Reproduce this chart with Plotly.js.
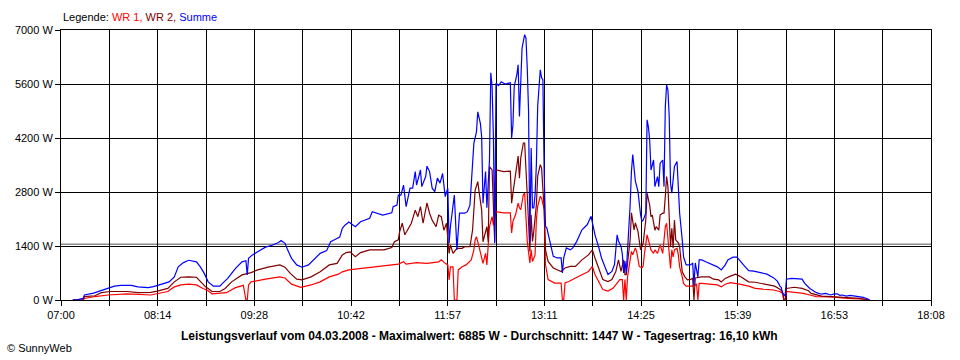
<!DOCTYPE html>
<html>
<head>
<meta charset="utf-8">
<script src="https://cdn.plot.ly/plotly-3.0.1.min.js"></script>
<style>html,body{margin:0;padding:0;background:#fff;}#chart{width:960px;height:360px;}</style>
</head>
<body>
<div id="chart"></div>
<script>
// ---- data ----
const xTickLabels = ["07:00","08:14","09:28","10:42","11:57","13:11","14:25","15:39","16:53","18:08"];
const yTickValues = [0, 1400, 2800, 4200, 5600, 7000];
const averageW = 1447;

const sumTimes = ["07:09","07:13","07:17","07:18","07:25","07:29","07:36","07:41","07:46","07:54","07:59","08:07","08:11","08:17","08:23","08:27","08:30","08:34","08:38","08:44","08:47","08:50","08:53","08:57","09:02","09:04","09:08","09:14","09:19","09:22","09:23","09:24","09:27","09:31","09:37","09:42","09:47","09:49","09:52","09:54","09:57","10:01","10:05","10:10","10:15","10:19","10:24","10:27","10:30","10:34","10:36","10:38","10:41","10:46","10:50","10:57","10:59","11:07","11:14","11:15","11:18","11:19","11:21","11:23","11:25","11:28","11:30","11:32","11:33","11:36","11:37","11:40","11:41","11:43","11:45","11:47","11:49","11:51","11:53","11:55","11:57","11:58","11:59","12:02","12:04","12:06","12:10","12:12","12:14","12:17","12:19","12:20","12:22","12:23","12:24","12:26","12:27","12:29","12:30","12:31","12:32","12:33","12:34","12:36","12:38","12:41","12:45","12:46","12:47","12:48","12:50","12:51","12:52","12:53","12:54","12:56","12:57","12:58","12:59","13:00","13:01","13:02","13:03","13:04","13:05","13:06","13:08","13:09","13:10","13:11","13:12","13:13","13:16","13:18","13:21","13:24","13:25","13:26","13:28","13:31","13:33","13:36","13:40","13:44","13:47","13:50","13:53","13:55","13:58","14:00","14:03","14:05","14:07","14:08","14:10","14:11","14:12","14:13","14:14","14:16","14:17","14:18","14:19","14:21","14:23","14:25","14:26","14:27","14:29","14:30","14:31","14:32","14:33","14:35","14:36","14:38","14:39","14:40","14:42","14:43","14:44","14:45","14:46","14:47","14:48","14:49","14:50","14:51","14:53","14:54","14:55","14:57","14:58","15:00","15:03","15:05","15:06","15:07","15:09","15:10","15:12","15:15","15:18","15:24","15:27","15:30","15:32","15:36","15:39","15:41","15:44","15:48","15:52","15:57","16:02","16:07","16:10","16:12","16:13","16:14","16:16","16:17","16:21","16:29","16:31","16:35","16:40","16:44","16:47","16:51","16:53","16:56","16:58","17:00","17:03","17:06","17:10","17:16","17:20","17:21"];
const sumW = [0,10,40,130,180,230,300,360,380,380,340,320,345,410,470,600,860,970,1030,990,860,690,470,360,360,430,560,820,990,1020,650,1080,1170,1250,1370,1420,1490,1540,1470,1300,1080,910,850,910,1080,1210,1280,1510,1560,1630,1860,1940,2020,1900,2030,2120,2290,2200,2260,2420,2460,2720,2720,2980,2420,2900,2900,3330,2980,3370,2940,3200,3470,3330,2900,2810,3160,3030,3280,2680,2900,1470,1900,2720,1300,2250,2250,2290,2460,4060,4360,4880,4580,4230,2510,3330,2390,3630,5890,5530,4230,1470,5620,5560,5660,5600,5630,4200,4540,5540,5840,6100,4760,5500,6530,6880,6790,6010,4890,1520,3940,2390,2390,2720,3510,5020,5970,5760,5710,3250,1910,1870,1430,1130,1090,1090,700,1090,1350,1300,1350,1520,1820,1950,2170,1690,1350,1090,830,660,740,920,1690,1530,1390,1190,700,1010,700,1690,2470,3340,3770,3080,2820,2210,2040,2070,2250,4670,4490,4150,3370,3630,2940,3200,2940,3540,3630,2940,5010,5570,5440,4750,3030,2770,3190,3460,3590,2850,2250,1560,1120,910,910,950,390,960,600,1040,1040,990,950,860,780,910,1040,1110,1110,1040,910,760,750,710,670,580,490,360,330,180,100,540,560,540,430,300,190,150,170,130,150,160,120,130,100,120,100,70,20,0];

const wr2Times = ["07:09","07:17","07:18","07:26","07:31","07:38","07:51","07:59","08:09","08:14","08:22","08:27","08:32","08:38","08:44","08:47","08:51","08:53","08:56","09:02","09:06","09:11","09:19","09:26","09:31","09:39","09:48","09:52","09:56","10:01","10:05","10:12","10:19","10:26","10:32","10:36","10:39","10:42","10:46","10:50","10:57","11:08","11:14","11:16","11:19","11:20","11:22","11:24","11:27","11:29","11:32","11:34","11:36","11:38","11:41","11:43","11:45","11:48","11:50","11:52","11:54","11:56","11:58","11:59","12:01","12:04","12:08","12:10","12:14","12:16","12:18","12:20","12:21","12:23","12:24","12:27","12:28","12:29","12:31","12:33","12:34","12:40","12:45","12:46","12:47","12:49","12:50","12:51","12:52","12:53","12:55","12:56","12:58","13:00","13:01","13:02","13:03","13:05","13:06","13:08","13:09","13:11","13:12","13:14","13:18","13:22","13:24","13:27","13:31","13:35","13:40","13:45","13:48","13:50","13:54","13:56","14:00","14:03","14:06","14:08","14:10","14:12","14:13","14:14","14:17","14:18","14:20","14:21","14:23","14:25","14:27","14:29","14:30","14:32","14:33","14:34","14:36","14:37","14:39","14:40","14:42","14:43","14:44","14:45","14:46","14:47","14:48","14:49","14:50","14:51","14:52","14:54","14:55","14:56","14:57","14:59","15:01","15:04","15:05","15:06","15:07","15:12","15:18","15:21","15:25","15:27","15:30","15:34","15:38","15:41","15:44","15:48","15:53","15:58","16:03","16:08","16:12","16:14","16:15","16:16","16:17","16:23","16:29","16:34","16:36","16:40","16:44","16:51","17:04","17:13","17:20"];
const wr2W = [0,0,90,110,190,220,220,190,200,230,300,470,590,600,590,470,340,300,220,220,300,470,650,710,780,850,910,850,690,540,520,600,730,910,950,1170,1230,1250,1120,1230,1300,1300,1360,1510,1560,1770,1990,1690,1860,1990,2330,2160,2420,1990,2520,2250,2070,1900,2200,2160,1810,1990,1210,1430,1210,1340,1340,1380,1380,1810,2850,3070,2810,2330,1510,1900,1510,3460,3370,1510,3370,3330,3340,2510,2770,3250,3550,3730,3160,3680,4070,4070,2730,1260,2210,1520,1780,2470,3210,3510,3420,2340,1300,1000,830,760,740,830,870,870,1040,1170,1300,1090,700,530,480,530,740,1040,740,1040,660,660,1560,2260,1820,2000,1780,1300,1470,2070,2770,2460,2160,2200,1810,1900,1810,2200,2250,2250,2680,3200,2940,2070,1380,1860,1340,2070,1560,1480,1380,1040,730,600,520,540,570,0,570,600,600,540,520,470,560,620,670,620,560,470,460,430,400,360,280,220,0,0,300,330,300,240,170,130,100,90,70,40,0];

const wr1Times = ["07:09","07:17","07:18","07:26","07:36","07:51","08:09","08:14","08:22","08:27","08:32","08:38","08:44","08:49","08:53","08:56","09:07","09:14","09:20","09:22","09:23","09:24","09:26","09:37","09:48","09:52","09:57","10:04","10:12","10:19","10:26","10:33","10:36","10:41","10:52","11:02","11:19","11:23","11:25","11:33","11:41","11:50","11:52","11:55","11:57","11:58","11:59","12:01","12:02","12:04","12:05","12:08","12:11","12:15","12:17","12:18","12:19","12:21","12:23","12:24","12:26","12:27","12:29","12:31","12:32","12:34","12:40","12:45","12:46","12:47","12:49","12:50","12:51","12:52","12:53","12:55","12:56","12:58","13:00","13:01","13:02","13:04","13:05","13:06","13:08","13:09","13:11","13:12","13:14","13:19","13:24","13:25","13:26","13:27","13:30","13:35","13:40","13:45","13:48","13:50","13:54","13:56","14:00","14:04","14:07","14:09","14:11","14:12","14:13","14:14","14:15","14:17","14:18","14:19","14:21","14:22","14:24","14:26","14:27","14:28","14:30","14:31","14:32","14:33","14:35","14:36","14:38","14:39","14:40","14:42","14:43","14:44","14:45","14:46","14:47","14:48","14:49","14:50","14:51","14:53","14:54","14:55","14:57","14:58","15:00","15:05","15:08","15:09","15:10","15:12","15:18","15:24","15:27","15:30","15:34","15:39","15:41","15:48","15:53","15:59","16:07","16:12","16:14","16:15","16:16","16:17","16:25","16:30","16:35","16:40","16:51","17:04","17:19","17:20"];
const wr1W = [0,0,40,90,130,160,130,160,220,340,390,410,390,300,240,160,190,320,380,0,0,390,470,540,600,570,410,330,390,470,600,670,730,780,820,860,930,990,930,970,950,990,1040,950,910,520,860,860,0,0,780,860,910,1040,1300,1560,1640,1380,1040,950,1210,910,1900,2160,1940,2290,2260,2260,1740,2040,2210,2390,2510,2390,2340,2730,2770,1520,960,1300,1000,1170,2080,2430,2690,2640,2340,920,530,440,440,0,0,440,480,570,660,740,870,660,400,270,230,310,440,530,530,0,530,0,600,1000,1260,1170,1350,1260,870,830,880,1210,1690,1560,1430,1300,1210,1300,1210,1300,1430,1210,1560,1900,1990,1640,1170,820,1300,1120,1300,1340,1170,860,600,430,360,360,410,0,430,430,410,390,340,410,450,430,410,360,300,280,260,220,170,0,0,220,200,170,130,90,80,40,20,0];

// ---- helpers ----
function toMin(s) { const p = s.split(":"); return (+p[0]) * 60 + (+p[1]); }
const xStart = toMin(xTickLabels[0]);
const xEnd = toMin(xTickLabels[xTickLabels.length - 1]);
const nGrid = (xTickLabels.length - 1) * 2;
const xTickVals = [], xTickText = [];
for (let i = 0; i <= nGrid; i++) {
  xTickVals.push(xStart + i * (xEnd - xStart) / nGrid);
  xTickText.push(i % 2 === 0 ? xTickLabels[i / 2] : "");
}

const FONT = "Liberation Sans, Arial, sans-serif";
function series(times, vals, color, name) {
  return { type: "scatter", mode: "lines", name: name,
    x: times.map(toMin), y: vals,
    line: { color: color, width: 1.2 }, hoverinfo: "skip" };
}

const data = [
  series(wr1Times, wr1W, "#ff0000", "WR 1"),
  series(wr2Times, wr2W, "#800000", "WR 2"),
  series(sumTimes, sumW, "#0000ff", "Summe")
];

const layout = {
  width: 960, height: 360,
  margin: { l: 61, r: 29, t: 30, b: 60, pad: 0 },
  paper_bgcolor: "#ffffff", plot_bgcolor: "#ffffff",
  showlegend: false,
  font: { family: FONT, size: 11, color: "#000" },
  xaxis: {
    range: [xStart, xEnd], tickmode: "array", tickvals: xTickVals, ticktext: xTickText,
    showgrid: true, gridcolor: "#000", gridwidth: 1, zeroline: false,
    showline: true, linecolor: "#000", linewidth: 1, mirror: true,
    ticks: "outside", ticklen: 5, tickcolor: "#000", tickwidth: 1,
    tickfont: { family: FONT, size: 11, color: "#000" }, layer: "below traces", fixedrange: true
  },
  yaxis: {
    range: [0, 7000], tickmode: "array", tickvals: yTickValues,
    ticktext: yTickValues.map(v => v + " W"),
    showgrid: true, gridcolor: "#000", gridwidth: 1, zeroline: false,
    showline: true, linecolor: "#000", linewidth: 1, mirror: true,
    ticks: "outside", ticklen: 5, tickcolor: "#000", tickwidth: 1,
    tickfont: { family: FONT, size: 11, color: "#000" }, layer: "below traces", fixedrange: true
  },
  shapes: [{
    type: "line", xref: "paper", x0: 0, x1: 1, yref: "y", y0: averageW, y1: averageW,
    line: { color: "#8a8a8a", width: 1.5 }, layer: "below"
  }],
  annotations: [
    { xref: "paper", yref: "paper", x: 0, y: 1.049, xanchor: "left", yanchor: "middle", showarrow: false,
      font: { family: FONT, size: 11, color: "#000" },
      text: 'Legende: <span style="color:#ff0000">WR 1,</span> <span style="color:#800000">WR 2,</span> <span style="color:#0000ff">Summe</span>' },
    { xref: "paper", yref: "paper", x: 0.481, y: -0.135, xanchor: "center", yanchor: "middle", showarrow: false,
      font: { family: FONT, size: 12, color: "#000" },
      text: "<b>Leistungsverlauf vom 04.03.2008 - Maximalwert: 6885 W - Durchschnitt: 1447 W - Tagesertrag: 16,10 kWh</b>" },
    { xref: "paper", yref: "paper", x: -0.0644, y: -0.178, xanchor: "left", yanchor: "middle", showarrow: false,
      font: { family: FONT, size: 11, color: "#000" }, text: "© SunnyWeb" }
  ]
};

Plotly.newPlot("chart", data, layout, { displayModeBar: false, staticPlot: true });
</script>
</body>
</html>
